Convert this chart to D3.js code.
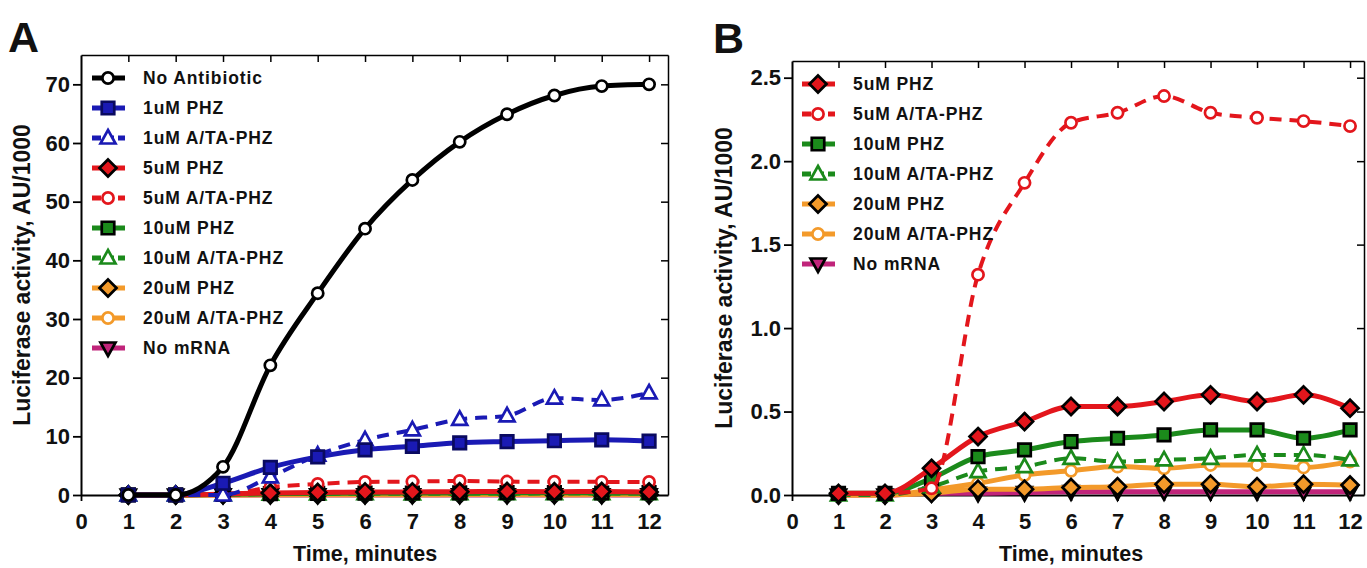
<!DOCTYPE html>
<html><head><meta charset="utf-8">
<script src="https://cdn.jsdelivr.net/npm/d3@7"></script>
<style>
body{margin:0;background:#fff;}
svg{display:block;font-family:"Liberation Sans",Arial,sans-serif;font-weight:bold;}
</style></head><body>
<svg id="chart" width="1367" height="568"></svg>
<script>
// ---------- data ----------
const times = [1,2,3,4,5,6,7,8,9,10,11,12];
const noAntibiotic = [0,0,4.8,22.1,34.4,45.4,53.7,60.2,64.9,68.1,69.7,70.0];
const phz1  = [0,0,2.0,4.7,6.5,7.7,8.3,8.9,9.1,9.25,9.4,9.2];
const ata1  = [0,0,0,3.1,6.8,9.4,11.1,12.9,13.5,16.5,16.2,17.4];
const phz5  = [0.01,0.01,0.16,0.35,0.44,0.53,0.53,0.56,0.60,0.56,0.60,0.52];
const ata5  = [0.01,0.01,0.04,1.32,1.87,2.23,2.29,2.39,2.29,2.26,2.24,2.21];
const phz10 = [0.01,0.01,0.10,0.23,0.27,0.32,0.34,0.36,0.39,0.39,0.34,0.39];
const ata10 = [0.0,0.0,0.05,0.14,0.17,0.22,0.20,0.21,0.22,0.24,0.24,0.21];
const phz20 = [0.0,0.0,0.01,0.035,0.035,0.045,0.05,0.065,0.065,0.05,0.065,0.06];
const ata20 = [0.0,0.0,0.03,0.07,0.12,0.145,0.17,0.16,0.18,0.18,0.165,0.20];
const noMRNA = [0.0,0.0,0.01,0.01,0.015,0.02,0.02,0.02,0.02,0.02,0.02,0.02];

const seriesNames = ["No Antibiotic","1uM PHZ","1uM A/TA-PHZ","5uM PHZ","5uM A/TA-PHZ",
  "10uM PHZ","10uM A/TA-PHZ","20uM PHZ","20uM A/TA-PHZ","No mRNA"];
const seriesValues = [noAntibiotic, phz1, ata1, phz5, ata5, phz10, ata10, phz20, ata20, noMRNA];

const xTicks = [0,1,2,3,4,5,6,7,8,9,10,11,12];
const yTicksA = [0,10,20,30,40,50,60,70];
const yTicksB = [0,0.5,1.0,1.5,2.0,2.5];
const panelASeries = seriesNames;
const panelBSeries = seriesNames.slice(3);

// ---------- styles ----------
const C = {black:"#000000", blue:"#1a1ab4", red:"#e3161c", green:"#1b8a1b", orange:"#f39a2a", magenta:"#c0247a"};
const style = {
  "No Antibiotic":   {color:C.black,  dash:false, shape:"circle",  fill:"#fff", stroke:C.black},
  "1uM PHZ":         {color:C.blue,   dash:false, shape:"square",  fill:C.blue, stroke:"#0a0a60"},
  "1uM A/TA-PHZ":    {color:C.blue,   dash:true,  shape:"triUp",   fill:"#fff", stroke:C.blue},
  "5uM PHZ":         {color:C.red,    dash:false, shape:"diamond", fill:C.red,  stroke:"#000"},
  "5uM A/TA-PHZ":    {color:C.red,    dash:true,  shape:"circle",  fill:"#fff", stroke:C.red},
  "10uM PHZ":        {color:C.green,  dash:false, shape:"square",  fill:C.green,stroke:"#000"},
  "10uM A/TA-PHZ":   {color:C.green,  dash:true,  shape:"triUp",   fill:"#fff", stroke:C.green},
  "20uM PHZ":        {color:C.orange, dash:false, shape:"diamond", fill:C.orange,stroke:"#000"},
  "20uM A/TA-PHZ":   {color:C.orange, dash:false, shape:"circle",  fill:"#fff", stroke:C.orange},
  "No mRNA":         {color:C.magenta,dash:false, shape:"triDown", fill:C.magenta,stroke:"#000"}
};

function markerPath(shape){
  switch(shape){
    case "circle": return d3.symbol(d3.symbolCircle, Math.PI*5.6*5.6)();
    case "square": return d3.symbol(d3.symbolSquare, 12.5*12.5)();
    case "diamond": return "M0,-8.5L8.5,0L0,8.5L-8.5,0Z";
    case "triUp": return "M0,-8L7.5,5.5L-7.5,5.5Z";
    case "triDown": return "M0,8L7.5,-5.5L-7.5,-5.5Z";
  }
}

const svg = d3.select("#chart");
const FONT = "Liberation Sans, Arial, sans-serif";

function drawPanel(cfg){
  const x = d3.scaleLinear().domain(cfg.xDomain).range([cfg.left, cfg.right]);
  const y = d3.scaleLinear().domain(cfg.yDomain).range([cfg.bottom, cfg.top]);
  const g = svg.append("g");

  // frame: mirror axes with inward ticks
  g.append("g").attr("transform",`translate(0,${cfg.top})`)
    .call(d3.axisBottom(x).tickValues(xTicks.slice(1)).tickSize(7).tickSizeOuter(0).tickFormat(""))
    .call(a=>a.select(".domain").attr("stroke-width",1.5))
    .call(a=>a.selectAll(".tick line").attr("stroke-width",1.5));
  g.append("g").attr("transform",`translate(${cfg.right},0)`)
    .call(d3.axisLeft(y).tickValues(cfg.yTicks.slice(1)).tickSize(7).tickSizeOuter(0).tickFormat(""))
    .call(a=>a.select(".domain").attr("stroke-width",1.5))
    .call(a=>a.selectAll(".tick line").attr("stroke-width",1.5));

  // main axes
  const ya = g.append("g").attr("transform",`translate(${cfg.left},0)`)
    .call(d3.axisLeft(y).tickValues(cfg.yTicks).tickSize(8).tickPadding(3).tickSizeOuter(0).tickFormat(cfg.yFormat));
  ya.select(".domain").attr("stroke-width",2);
  ya.selectAll(".tick line").attr("stroke-width",1.8);
  ya.selectAll("text").attr("font-size",22).attr("font-family",FONT).attr("font-weight","bold").attr("fill","#111");

  const xa = g.append("g").attr("transform",`translate(0,${cfg.bottom})`)
    .call(d3.axisBottom(x).tickValues(xTicks).tickSize(6).tickPadding(12).tickSizeOuter(0));
  xa.select(".domain").attr("stroke-width",2);
  xa.selectAll(".tick line").attr("stroke-width",1.8);
  xa.selectAll("text").attr("font-size",22).attr("font-family",FONT).attr("font-weight","bold").attr("fill","#111");

  // titles
  g.append("text").attr("x", (x(0)+x(12))/2).attr("y", 561).attr("text-anchor","middle")
    .attr("font-size",21.5).attr("fill","#111").text("Time, minutes");
  g.append("text").attr("transform",`translate(${cfg.yTitleX},${(cfg.top+cfg.bottom)/2}) rotate(-90)`)
    .attr("text-anchor","middle").attr("dy","0.35em").attr("font-size",23).attr("fill","#111")
    .text("Luciferase activity, AU/1000");
  g.append("text").attr("x",cfg.letterX).attr("y",cfg.letterY).attr("font-size",43).attr("fill","#111").text(cfg.letter);

  // series (first in legend drawn on top)
  const line = d3.line().x(d=>x(d[0])).y(d=>y(d[1])).curve(d3.curveMonotoneX);
  const names = cfg.series.slice().reverse();
  names.forEach(name=>{
    const st = style[name];
    const vals = seriesValues[seriesNames.indexOf(name)];
    const pts = times.map((t,i)=>[t, vals[i]]);
    const sg = g.append("g");
    sg.append("path").attr("d", line(pts)).attr("fill","none").attr("stroke", st.color)
      .attr("stroke-width", st.dash?4:5).attr("stroke-dasharray", st.dash?"12,8":null)
      .attr("stroke-linecap","butt");
    sg.selectAll("path.m").data(pts).enter().append("path").attr("class","m")
      .attr("d", markerPath(st.shape)).attr("transform", d=>`translate(${x(d[0])},${y(d[1])})`)
      .attr("fill", st.fill).attr("stroke", st.stroke).attr("stroke-width", 2.7);
  });

  // legend
  const lg = g.append("g");
  cfg.series.forEach((name,i)=>{
    const st = style[name];
    const ly = cfg.legendY + i*30;
    lg.append("line").attr("x1",cfg.legendX-16).attr("x2",cfg.legendX+17).attr("y1",ly).attr("y2",ly)
      .attr("stroke",st.color).attr("stroke-width",5).attr("stroke-dasharray", st.dash?"9,4":null);
    lg.append("path").attr("d",markerPath(st.shape)).attr("transform",`translate(${cfg.legendX},${ly})`)
      .attr("fill",st.fill).attr("stroke",st.stroke).attr("stroke-width",2.7);
    lg.append("text").attr("x",cfg.legendX+35).attr("y",ly).attr("dy","0.36em")
      .attr("font-size",17.5).attr("letter-spacing","0.9px").attr("fill","#111").text(name);
  });
}

drawPanel({
  letter:"A", letterX:8, letterY:52,
  left:81, right:668, top:55, bottom:495,
  xDomain:[0,12.4], yDomain:[0,75], yTicks:yTicksA, yFormat:d3.format("d"),
  yTitleX:22, series:panelASeries, legendX:108, legendY:78
});
drawPanel({
  letter:"B", letterX:713, letterY:53,
  left:792, right:1364, top:61, bottom:495,
  xDomain:[0,12.3], yDomain:[0,2.6], yTicks:yTicksB, yFormat:d3.format(".1f"),
  yTitleX:724, series:panelBSeries, legendX:818, legendY:84
});
</script>
</body></html>
